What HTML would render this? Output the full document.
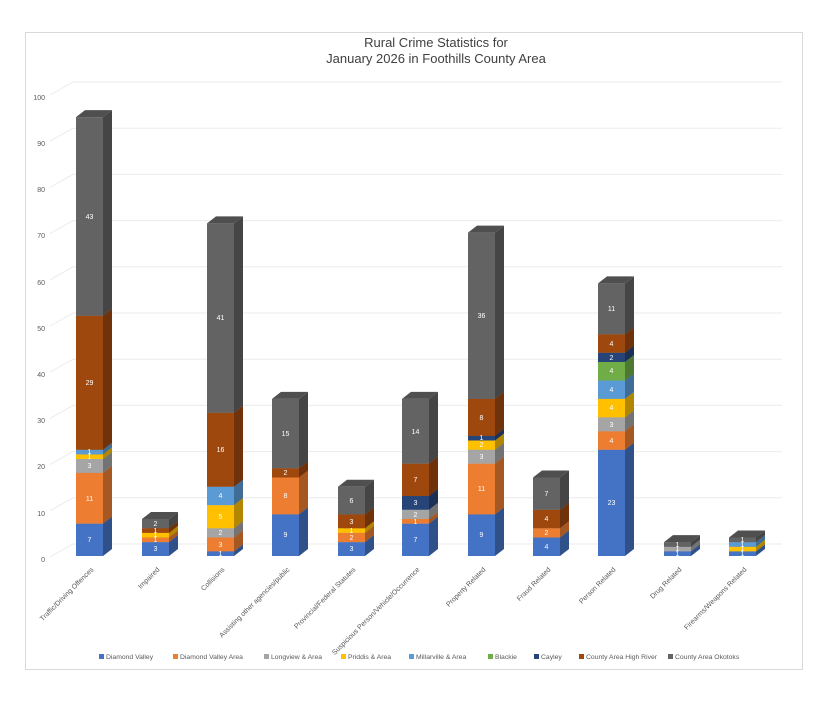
<!DOCTYPE html>
<html><head><meta charset="utf-8"><style>
body{margin:0;background:#fff}
svg{display:block;font-family:"Liberation Sans",sans-serif}
.v{font-size:7px;fill:#fff;text-anchor:middle}
.c{font-size:7px;fill:#595959;text-anchor:end}
.y{font-size:7px;fill:#595959;text-anchor:end}
.l{font-size:6.8px;fill:#595959}
</style></head><body>
<svg id="s" width="826" height="705" viewBox="0 0 826 705" xmlns="http://www.w3.org/2000/svg">
<rect x="0" y="0" width="826" height="705" fill="#fff"/>
<rect x="25.5" y="32.5" width="777" height="637" fill="#fff" stroke="#d9d9d9"/>
<g id="grid" stroke="#ebebeb" stroke-width="1" fill="none"></g>
<g id="bars"></g>
<text x="436" y="47" text-anchor="middle" font-size="13" fill="#404040">Rural Crime Statistics for</text>
<text x="436" y="63" text-anchor="middle" font-size="13" fill="#404040">January 2026 in Foothills County Area</text>
<g class="y">
<text x="45" y="562">0</text><text x="45" y="516">10</text><text x="45" y="469">20</text><text x="45" y="423">30</text><text x="45" y="377">40</text><text x="45" y="331">50</text><text x="45" y="285">60</text><text x="45" y="238">70</text><text x="45" y="192">80</text><text x="45" y="146">90</text><text x="45" y="100">100</text>
</g>
<g class="v" id="labels">
<text x="89.5" y="542">7</text><text x="89.5" y="501">11</text><text x="89.5" y="468">3</text><text x="89.5" y="459">1</text><text x="89.5" y="454">1</text><text x="89.5" y="385">29</text><text x="89.5" y="219">43</text>
<text x="155.5" y="551">3</text><text x="155.5" y="542">1</text><text x="155.5" y="537">1</text><text x="155.5" y="533">1</text><text x="155.5" y="526">2</text>
<text x="220.5" y="556">1</text><text x="220.5" y="547">3</text><text x="220.5" y="535">2</text><text x="220.5" y="519">5</text><text x="220.5" y="498">4</text><text x="220.5" y="452">16</text><text x="220.5" y="320">41</text>
<text x="285.5" y="537">9</text><text x="285.5" y="498">8</text><text x="285.5" y="475">2</text><text x="285.5" y="436">15</text>
<text x="351.5" y="551">3</text><text x="351.5" y="540">2</text><text x="351.5" y="533">1</text><text x="351.5" y="524">3</text><text x="351.5" y="503">6</text>
<text x="415.5" y="542">7</text><text x="415.5" y="524">1</text><text x="415.5" y="517">2</text><text x="415.5" y="505">3</text><text x="415.5" y="482">7</text><text x="415.5" y="434">14</text>
<text x="481.5" y="537">9</text><text x="481.5" y="491">11</text><text x="481.5" y="459">3</text><text x="481.5" y="447">2</text><text x="481.5" y="440">1</text><text x="481.5" y="420">8</text><text x="481.5" y="318">36</text>
<text x="546.5" y="549">4</text><text x="546.5" y="535">2</text><text x="546.5" y="521">4</text><text x="546.5" y="496">7</text>
<text x="611.5" y="505">23</text><text x="611.5" y="443">4</text><text x="611.5" y="427">3</text><text x="611.5" y="410">4</text><text x="611.5" y="392">4</text><text x="611.5" y="373">4</text><text x="611.5" y="360">2</text><text x="611.5" y="346">4</text><text x="611.5" y="311">11</text>
<text x="677.5" y="556">1</text><text x="677.5" y="551">1</text><text x="677.5" y="547">1</text>
<text x="742.5" y="556">1</text><text x="742.5" y="551">1</text><text x="742.5" y="547">1</text><text x="742.5" y="542">1</text>
</g>
<g class="c">
<text transform="translate(94,570) rotate(-45)">Traffic/Driving Offences</text>
<text transform="translate(160,570) rotate(-45)">Impaired</text>
<text transform="translate(225,570) rotate(-45)">Collisions</text>
<text transform="translate(290,570) rotate(-45)">Assisting other agencies/public</text>
<text transform="translate(356,570) rotate(-45)">Provincial/Federal Statutes</text>
<text transform="translate(420,570) rotate(-45)">Suspicious Person/Vehicle/Occurrence</text>
<text transform="translate(486,570) rotate(-45)">Property Related</text>
<text transform="translate(551,570) rotate(-45)">Fraud Related</text>
<text transform="translate(616,570) rotate(-45)">Person Related</text>
<text transform="translate(682,570) rotate(-45)">Drug Related</text>
<text transform="translate(747,570) rotate(-45)">Firearms/Weapons Related</text>
</g>
<g class="l">
<rect x="99" y="654" width="5" height="5" fill="#4472C4"/><text x="106" y="659">Diamond Valley</text>
<rect x="173" y="654" width="5" height="5" fill="#ED7D31"/><text x="180" y="659">Diamond Valley Area</text>
<rect x="264" y="654" width="5" height="5" fill="#A5A5A5"/><text x="271" y="659">Longview &amp; Area</text>
<rect x="341" y="654" width="5" height="5" fill="#FFC000"/><text x="348" y="659">Priddis &amp; Area</text>
<rect x="409" y="654" width="5" height="5" fill="#5B9BD5"/><text x="416" y="659">Millarville &amp; Area</text>
<rect x="488" y="654" width="5" height="5" fill="#70AD47"/><text x="495" y="659">Blackie</text>
<rect x="534" y="654" width="5" height="5" fill="#264478"/><text x="541" y="659">Cayley</text>
<rect x="579" y="654" width="5" height="5" fill="#9E480E"/><text x="586" y="659">County Area High River</text>
<rect x="668" y="654" width="5" height="5" fill="#636363"/><text x="675" y="659">County Area Okotoks</text>
</g>
</svg>
<script>
var k=4.62,B=556,W=27,dx=9,dy=-7;
var cols=["#4472C4","#ED7D31","#A5A5A5","#FFC000","#5B9BD5","#70AD47","#264478","#9E480E","#636363"];
var data=[[7,11,3,1,1,0,0,29,43],[3,1,0,1,0,0,0,1,2],[1,3,2,5,4,0,0,16,41],[9,8,0,0,0,0,0,2,15],[3,2,0,1,0,0,0,3,6],[7,1,2,0,0,0,3,7,14],[9,11,3,2,0,0,1,8,36],[4,2,0,0,0,0,0,4,7],[23,4,3,4,4,4,2,4,11],[1,0,1,0,0,0,0,0,1],[1,0,0,1,1,0,0,0,1]];
var xs=[76,142,207,272,338,402,468,533,598,664,729];
function sh(c,f){var n=parseInt(c.slice(1),16);var r=n>>16,g=(n>>8)&255,b=n&255;return "rgb("+Math.round(r*f)+","+Math.round(g*f)+","+Math.round(b*f)+")";}
var ns="http://www.w3.org/2000/svg";
var grid=document.getElementById("grid"),bars=document.getElementById("bars");
for(var v=0;v<=100;v+=10){var yb=544-k*v,yf=557-k*v;
 var l=document.createElementNS(ns,"polyline");l.setAttribute("points","50,"+yf+" 73,"+yb+" 782,"+yb);grid.appendChild(l);}
function poly(p,fill){var e=document.createElementNS(ns,"polygon");e.setAttribute("points",p);e.setAttribute("fill",fill);bars.appendChild(e);}
data.forEach(function(d,i){var x=xs[i],cum=0;
 d.forEach(function(v,j){if(!v)return;var y0=B-k*cum,y1=B-k*(cum+v);var c=cols[j];
  poly((x+W)+","+y0+" "+(x+W+dx)+","+(y0+dy)+" "+(x+W+dx)+","+(y1+dy)+" "+(x+W)+","+y1,sh(c,0.7));
  poly(x+","+y0+" "+(x+W)+","+y0+" "+(x+W)+","+y1+" "+x+","+y1,c);
  poly(x+","+y1+" "+(x+W)+","+y1+" "+(x+W+dx)+","+(y1+dy)+" "+(x+dx)+","+(y1+dy),sh(c,0.8));
  cum+=v;});});
</script>
</body></html>
